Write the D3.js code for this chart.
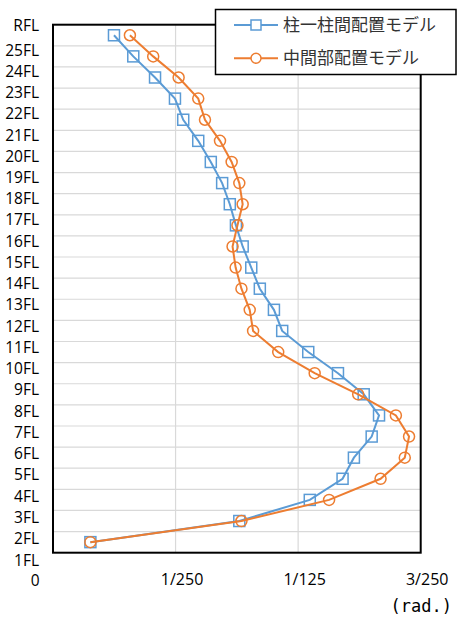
<!DOCTYPE html>
<html><head><meta charset="utf-8">
<script src="https://cdn.jsdelivr.net/npm/d3@7"></script>
<style>body{margin:0;background:#fff}</style>
</head><body>
<script>
// Floors (labels at floor levels, bottom to top)
const floorLabels = ["1FL","2FL","3FL","4FL","5FL","6FL","7FL","8FL","9FL","10FL","11FL","12FL","13FL","14FL","15FL","16FL","17FL","18FL","19FL","20FL","21FL","22FL","23FL","24FL","25FL","RFL"];
// Stories 1..25 (between floor s and s+1)
const stories = d3.range(1, 26);
const seriesNames = ["柱一柱間配置モデル", "中間部配置モデル"];
// story drift angle (rad.)
const colColValues = [0.00122,0.00608,0.00838,0.00945,0.00982,0.01040,0.01064,0.01014,0.00930,0.00833,0.00748,0.00721,0.00675,0.00647,0.00619,0.00597,0.00577,0.00552,0.00515,0.00474,0.00425,0.00398,0.00333,0.00262,0.00199];
const midValues    = [0.00122,0.00615,0.00901,0.01069,0.01148,0.01162,0.01119,0.00996,0.00854,0.00735,0.00653,0.00642,0.00615,0.00596,0.00586,0.00602,0.00619,0.00608,0.00583,0.00545,0.00496,0.00474,0.00410,0.00327,0.00251];
const xTicks = [0, 0.004, 0.008, 0.012];
const xTickLabels = ["0", "1/250", "1/125", "3/250"];
const xUnit = "(rad.)";

const W = 457, H = 617;
const plot = {l: 53, t: 24.7, r: 420.7, b: 552.7};
const svg = d3.select("body").append("svg").attr("width", W).attr("height", H);

const x = d3.scaleLinear().domain([0, 0.012]).range([plot.l, plot.r]);
const y = d3.scaleLinear().domain([1, 26]).range([plot.b, plot.t]);
const yLab = d3.scaleLinear().domain([2, 25]).range([538.5, 50]);

// gridlines
svg.append("g").selectAll("line.h").data(d3.range(2, 26)).join("line")
  .attr("x1", plot.l).attr("x2", plot.r).attr("y1", d => y(d)).attr("y2", d => y(d))
  .attr("stroke", "#d9d9d9").attr("stroke-width", 1.2);
svg.append("g").selectAll("line.v").data(xTicks.slice(1, -1)).join("line")
  .attr("y1", plot.t).attr("y2", plot.b).attr("x1", d => x(d)).attr("x2", d => x(d))
  .attr("stroke", "#d9d9d9").attr("stroke-width", 1.2);

// x axis labels
const xAxis = d3.axisBottom(x).tickValues(xTicks).tickSize(0).tickFormat((d, i) => xTickLabels[i]);
const gx = svg.append("g").attr("transform", `translate(0,${plot.b})`).call(xAxis);
gx.select(".domain").remove();
gx.selectAll("text").attr("font-family", "Open Sans, sans-serif").attr("font-size", 16)
  .attr("fill", "#000").attr("y", 0).attr("dy", "0").attr("dx", 6)
  .attr("transform", "translate(0,32.5)");
gx.selectAll(".tick").filter(d => d === 0).select("text")
  .attr("text-anchor", "end").attr("dx", 0).attr("x", 39 - plot.l)
  .attr("font-size", 15.5).attr("transform", "translate(0,33.5)");

svg.append("text").attr("x", 452).attr("y", 612).attr("text-anchor", "end")
  .attr("font-family", "DejaVu Sans Mono, monospace").attr("font-size", 17)
  .attr("fill", "#000").text(xUnit);

// y labels
svg.append("g").selectAll("text").data(floorLabels).join("text")
  .attr("x", 39).attr("text-anchor", "end")
  .attr("y", (d, i) => {
    const f = i + 1;
    if (f === 26) return 25;
    if (f === 1) return 560.5;
    return yLab(f);
  })
  .attr("dy", "0.36em")
  .attr("font-family", "Open Sans, sans-serif").attr("font-size", 15.5)
  .attr("fill", "#000").text(d => d);

// series
const colors = ["#5b9bd5", "#ed7d31"];
const data = [colColValues, midValues];
const line = d3.line().x(d => x(d.v)).y(d => y(d.s + 0.5));
data.forEach((vals, k) => {
  const pts = stories.map((s, i) => ({s, v: vals[i]}));
  svg.append("path").datum(pts).attr("d", line).attr("fill", "none")
    .attr("stroke", colors[k]).attr("stroke-width", 2);
  if (k === 0) {
    svg.append("g").selectAll("rect").data(pts).join("rect")
      .attr("x", d => x(d.v) - 5.5).attr("y", d => y(d.s + 0.5) - 5.5)
      .attr("width", 11).attr("height", 11)
      .attr("fill", "none").attr("stroke", colors[k]).attr("stroke-width", 1.5);
  } else {
    svg.append("g").selectAll("circle").data(pts).join("circle")
      .attr("cx", d => x(d.v)).attr("cy", d => y(d.s + 0.5)).attr("r", 5.5)
      .attr("fill", "none").attr("stroke", colors[k]).attr("stroke-width", 1.5);
  }
});

// plot border
svg.append("rect").attr("x", plot.l).attr("y", plot.t)
  .attr("width", plot.r - plot.l).attr("height", plot.b - plot.t)
  .attr("fill", "none").attr("stroke", "#000").attr("stroke-width", 2);

// legend
const lg = svg.append("g");
lg.append("rect").attr("x", 215.5).attr("y", 9.5).attr("width", 240.5).attr("height", 65)
  .attr("fill", "#fff").attr("stroke", "#000").attr("stroke-width", 1.5);
seriesNames.forEach((n, k) => {
  const yy = k === 0 ? 25 : 58.3;
  lg.append("line").attr("x1", 234).attr("x2", 278).attr("y1", yy).attr("y2", yy)
    .attr("stroke", colors[k]).attr("stroke-width", 2);
  if (k === 0) {
    lg.append("rect").attr("x", 256 - 5).attr("y", yy - 5).attr("width", 10).attr("height", 10)
      .attr("fill", "#fff").attr("stroke", colors[k]).attr("stroke-width", 1.5);
  } else {
    lg.append("circle").attr("cx", 256).attr("cy", yy).attr("r", 5)
      .attr("fill", "#fff").attr("stroke", colors[k]).attr("stroke-width", 1.5);
  }
  lg.append("text").attr("x", 283).attr("y", yy).attr("dy", "0.36em")
    .attr("font-family", "Noto Sans CJK JP").attr("font-size", 17)
    .attr("fill", "#333").text(n);
});
</script>
</body></html>
